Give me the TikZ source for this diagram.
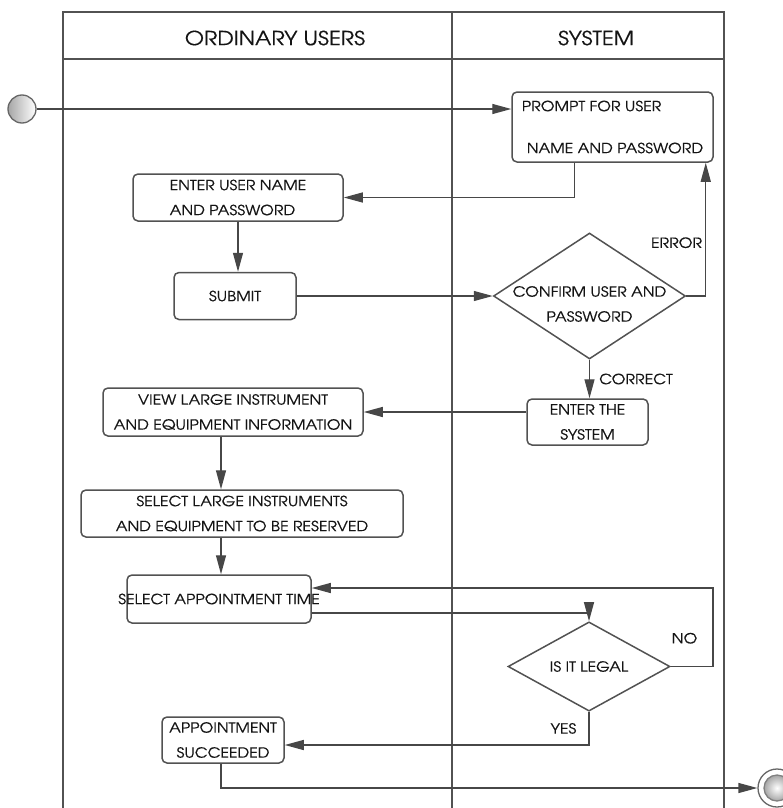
\documentclass[tikz,border=0pt]{standalone}
\usepackage{fontspec}
\setmainfont{texgyreadventor}[Extension=.otf, UprightFont=*-regular, BoldFont=*-bold, FakeStretch=1.13, FakeBold=0.4]
\usetikzlibrary{arrows.meta,shapes.geometric}

\begin{document}
\begin{tikzpicture}[x=1pt,y=-1pt,line width=1.3pt,draw=black!68,
    >={Triangle[length=19pt,width=10pt]},
    act/.style={draw=black!68,line width=1.5pt,rounded corners=5pt,align=center,inner sep=0pt,
      text=black!92,font=\fontsize{14}{25}\selectfont},
    choice/.style={diamond,draw=black!68,line width=1.5pt,inner sep=0pt,text=black!92,
      font=\fontsize{14}{25}\selectfont},
    lbl/.style={inner sep=0pt,text=black!92,font=\fontsize{14}{25}\selectfont},
    head/.style={inner sep=0pt,text=black!92,font=\fontsize{19.5}{24}\selectfont},
    flow/.style={->,draw=black!72}]
      \useasboundingbox (0,0) rectangle (782,808);

      % lanes
      \draw (63,808) -- (63,12) -- (724,12) -- (724,808);
      \draw (63,59) -- (724,59);
      \draw (452,12) -- (452,808);
      \node[head] (usershead) at (275,38) {ORDINARY USERS};
      \node[head] (systemhead) at (596,38) {SYSTEM};

      % start and end
      \node[circle,draw=black!60,minimum size=28pt,inner sep=0pt,left color=black!35,right color=white] (start) at (22,109) {};
      \node[circle,draw=black!60,fill=white,minimum size=38pt,inner sep=0pt] (finish) at (777,788) {};
      \shade[draw=black!50,inner color=white,outer color=black!35] (finish.center) circle (13);

      % activities
      \node[act,minimum width=201pt,minimum height=70pt,align=left,font=\fontsize{14}{42}\selectfont] (prompt) at (612.5,127) {PROMPT FOR USER\\\hspace*{5pt}NAME AND PASSWORD};
      \node[act,minimum width=210pt,minimum height=47pt,align=left] (enter) at (238,197.5) {ENTER USER NAME\\AND PASSWORD};
      \node[act,minimum width=122pt,minimum height=47pt] (submit) at (235,296) {SUBMIT};
      \node[choice,minimum width=192pt,minimum height=126pt,
        label={[lbl,name=confirmtext,align=center,yshift=-8pt]center:{CONFIRM USER AND\\PASSWORD}}] (confirm) at (589.5,296) {};
      \node[act,minimum width=121pt,minimum height=46pt] (system) at (587.5,422) {ENTER THE\\SYSTEM};
      \node[act,minimum width=260pt,minimum height=48pt] (view) at (233,412) {VIEW LARGE INSTRUMENT\\AND EQUIPMENT INFORMATION};
      \node[act,minimum width=322pt,minimum height=47pt] (select) at (242,513.5) {SELECT LARGE INSTRUMENTS\\AND EQUIPMENT TO BE RESERVED};
      \node[act,minimum width=184pt,minimum height=48pt,inner xsep=-15pt] (appt) at (219,599) {SELECT APPOINTMENT TIME};
      \node[choice,minimum width=162pt,minimum height=69pt] (legal) at (589,666.5) {IS IT LEGAL};
      \node[act,minimum width=122pt,minimum height=46pt] (done) at (223,740) {APPOINTMENT\\SUCCEEDED};

      \coordinate (spine) at (221,0);
      \coordinate (noturn) at (713,588);

      % flows
      \draw[flow] (start) -- (start -| prompt.west);
      \draw[flow] ([xshift=-38pt]prompt.south) |- (enter.east);
      \draw[flow] (enter.south) -- (enter.south |- submit.north);
      \draw[flow] (submit) -- (confirm);
      \draw[flow] (confirm.east) -| node[lbl,pos=0.7,left=3pt] (errlbl) {ERROR} ([xshift=-8pt]prompt.south east);
      \draw[flow] (confirm.south) -- node[lbl,right=9pt] (corrlbl) {CORRECT} (confirm.south |- system.north);
      \draw[flow] (system.west |- view.east) -- (view.east);
      \draw[flow] (view.south -| spine) -- (select.north -| spine);
      \draw[flow] (select.south -| spine) -- (appt.north -| spine);
      \draw[flow] ([yshift=-14pt]appt.east) -| (legal.north);
      \draw[flow] (legal.east) -| node[lbl,pos=0.68,left=15pt] (nolbl) {NO} (noturn) -- ([yshift=11pt]appt.east);
      \draw[flow] (legal.south) |- node[lbl,pos=0.25,left=12pt] (yeslbl) {YES} ([yshift=-5pt]done.east);
      \draw[flow] (done.south -| spine) |- (finish);

    \end{tikzpicture}
\end{document}
